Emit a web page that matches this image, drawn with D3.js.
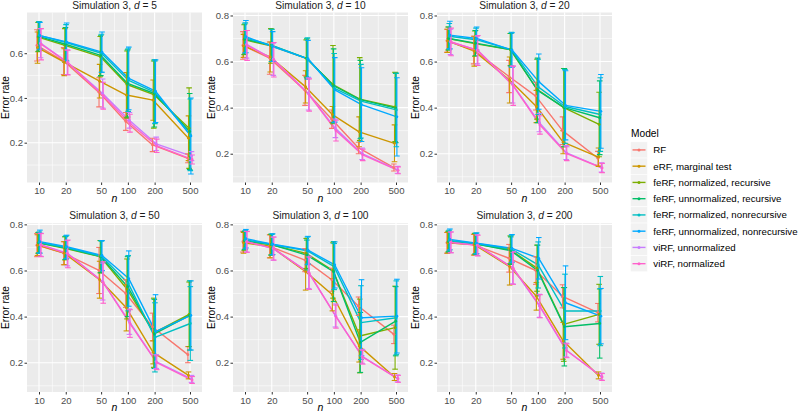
<!DOCTYPE html>
<html><head><meta charset="utf-8">
<script src="https://cdn.jsdelivr.net/npm/d3@7"></script>
<style>
html,body{margin:0;padding:0;background:#fff;}
svg text{font-family:"Liberation Sans",Arial,Helvetica,sans-serif;}
</style></head>
<body><svg id="c" width="800" height="413"></svg>
<script>
// ---- data ----
const nValues = [10, 20, 50, 100, 200, 500];
const seriesNames = ["RF", "eRF, marginal test", "feRF, normalized, recursive", "feRF, unnormalized, recursive",
  "feRF, normalized, nonrecursive", "feRF, unnormalized, nonrecursive", "viRF, unnormalized", "viRF, normalized"];
const seriesColors = ["#F8766D", "#CD9600", "#7CAE00", "#00BE67", "#00BFC4", "#00A9FF", "#C77CFF", "#FF61CC"];
const panelD = [5, 10, 20, 50, 100, 200];
const xTickLabels = ["10", "20", "50", "100", "200", "500"];
const yTickValues = [0.2, 0.4, 0.6, 0.8];

// mean error rate: rows = series (same order as seriesNames), cols = nValues
const mean_d5 = [
  [0.635, 0.565, 0.425, 0.295, 0.19, 0.13],
  [0.625, 0.56, 0.475, 0.413, 0.39, 0.22],
  [0.672, 0.635, 0.585, 0.46, 0.415, 0.265],
  [0.675, 0.64, 0.59, 0.465, 0.42, 0.25],
  [0.68, 0.648, 0.6, 0.48, 0.425, 0.235],
  [0.678, 0.65, 0.605, 0.487, 0.43, 0.23],
  [0.645, 0.56, 0.42, 0.3, 0.195, 0.14],
  [0.64, 0.558, 0.41, 0.287, 0.186, 0.125]];
const sd_d5 = [
  [0.07, 0.06, 0.065, 0.04, 0.03, 0.02],
  [0.07, 0.06, 0.075, 0.1, 0.09, 0.1],
  [0.065, 0.075, 0.09, 0.15, 0.15, 0.18],
  [0.065, 0.075, 0.09, 0.15, 0.15, 0.17],
  [0.06, 0.08, 0.085, 0.14, 0.14, 0.16],
  [0.06, 0.085, 0.09, 0.14, 0.14, 0.17],
  [0.065, 0.055, 0.065, 0.035, 0.03, 0.02],
  [0.07, 0.055, 0.06, 0.04, 0.03, 0.02]];

const mean_d10 = [
  [0.67, 0.615, 0.475, 0.35, 0.225, 0.14],
  [0.668, 0.62, 0.49, 0.37, 0.295, 0.245],
  [0.695, 0.668, 0.614, 0.5, 0.437, 0.403],
  [0.698, 0.67, 0.614, 0.495, 0.435, 0.398],
  [0.703, 0.67, 0.613, 0.485, 0.428, 0.39],
  [0.708, 0.665, 0.612, 0.477, 0.413, 0.36],
  [0.675, 0.61, 0.46, 0.31, 0.2, 0.13],
  [0.67, 0.608, 0.455, 0.3, 0.195, 0.128]];
const sd_d10 = [
  [0.06, 0.07, 0.065, 0.04, 0.025, 0.015],
  [0.05, 0.065, 0.07, 0.035, 0.065, 0.08],
  [0.065, 0.075, 0.08, 0.17, 0.18, 0.15],
  [0.065, 0.07, 0.085, 0.16, 0.17, 0.15],
  [0.065, 0.07, 0.09, 0.15, 0.16, 0.16],
  [0.07, 0.065, 0.08, 0.14, 0.16, 0.17],
  [0.06, 0.07, 0.07, 0.04, 0.025, 0.015],
  [0.065, 0.075, 0.07, 0.045, 0.025, 0.015]];

const mean_d20 = [
  [0.69, 0.65, 0.535, 0.45, 0.3, 0.18],
  [0.69, 0.645, 0.52, 0.405, 0.25, 0.185],
  [0.70, 0.678, 0.652, 0.48, 0.40, 0.327],
  [0.70, 0.68, 0.652, 0.475, 0.40, 0.356],
  [0.71, 0.695, 0.652, 0.49, 0.405, 0.37],
  [0.715, 0.70, 0.65, 0.513, 0.41, 0.384],
  [0.685, 0.65, 0.50, 0.335, 0.205, 0.14],
  [0.685, 0.648, 0.495, 0.325, 0.2, 0.138]];
const sd_d20 = [
  [0.05, 0.06, 0.07, 0.06, 0.06, 0.03],
  [0.05, 0.065, 0.1, 0.07, 0.05, 0.04],
  [0.05, 0.055, 0.07, 0.13, 0.17, 0.14],
  [0.05, 0.055, 0.07, 0.14, 0.17, 0.16],
  [0.055, 0.05, 0.075, 0.12, 0.16, 0.16],
  [0.06, 0.05, 0.075, 0.12, 0.15, 0.16],
  [0.055, 0.06, 0.08, 0.04, 0.03, 0.02],
  [0.06, 0.065, 0.085, 0.04, 0.03, 0.02]];

const mean_d50 = [
  [0.71, 0.675, 0.60, 0.50, 0.355, 0.235],
  [0.71, 0.675, 0.56, 0.438, 0.245, 0.145],
  [0.72, 0.696, 0.66, 0.52, 0.33, 0.41],
  [0.72, 0.698, 0.66, 0.53, 0.325, 0.405],
  [0.722, 0.70, 0.662, 0.545, 0.31, 0.37],
  [0.725, 0.703, 0.665, 0.565, 0.335, 0.405],
  [0.712, 0.675, 0.552, 0.378, 0.205, 0.13],
  [0.71, 0.672, 0.548, 0.37, 0.2, 0.125]];
const sd_d50 = [
  [0.05, 0.05, 0.1, 0.06, 0.06, 0.035],
  [0.045, 0.05, 0.08, 0.1, 0.05, 0.015],
  [0.045, 0.05, 0.07, 0.13, 0.15, 0.14],
  [0.045, 0.05, 0.07, 0.13, 0.15, 0.15],
  [0.045, 0.05, 0.065, 0.12, 0.15, 0.16],
  [0.05, 0.05, 0.065, 0.12, 0.16, 0.15],
  [0.05, 0.055, 0.08, 0.055, 0.03, 0.015],
  [0.05, 0.06, 0.09, 0.06, 0.03, 0.015]];

const mean_d100 = [
  [0.725, 0.705, 0.645, 0.56, 0.445, 0.323],
  [0.72, 0.705, 0.595, 0.495, 0.273, 0.138],
  [0.728, 0.712, 0.674, 0.60, 0.316, 0.352],
  [0.73, 0.712, 0.667, 0.595, 0.288, 0.38],
  [0.733, 0.713, 0.685, 0.617, 0.374, 0.395],
  [0.738, 0.714, 0.688, 0.624, 0.395, 0.402],
  [0.725, 0.695, 0.592, 0.405, 0.228, 0.132],
  [0.724, 0.695, 0.588, 0.40, 0.224, 0.13]];
const sd_d100 = [
  [0.045, 0.05, 0.05, 0.05, 0.04, 0.04],
  [0.045, 0.05, 0.08, 0.07, 0.07, 0.015],
  [0.04, 0.045, 0.065, 0.12, 0.16, 0.18],
  [0.04, 0.045, 0.065, 0.13, 0.13, 0.15],
  [0.04, 0.045, 0.06, 0.1, 0.16, 0.16],
  [0.04, 0.045, 0.06, 0.1, 0.165, 0.16],
  [0.045, 0.05, 0.07, 0.05, 0.03, 0.015],
  [0.045, 0.05, 0.07, 0.05, 0.03, 0.015]];

const mean_d200 = [
  [0.72, 0.712, 0.653, 0.60, 0.488, 0.417],
  [0.72, 0.712, 0.617, 0.488, 0.295, 0.145],
  [0.725, 0.716, 0.69, 0.61, 0.366, 0.41],
  [0.726, 0.716, 0.686, 0.60, 0.356, 0.37],
  [0.73, 0.717, 0.693, 0.624, 0.424, 0.424],
  [0.735, 0.718, 0.696, 0.653, 0.46, 0.402],
  [0.722, 0.71, 0.612, 0.447, 0.255, 0.14],
  [0.722, 0.708, 0.61, 0.445, 0.252, 0.138]];
const sd_d200 = [
  [0.045, 0.045, 0.06, 0.06, 0.05, 0.04],
  [0.045, 0.045, 0.08, 0.06, 0.08, 0.015],
  [0.045, 0.045, 0.06, 0.1, 0.16, 0.13],
  [0.045, 0.045, 0.06, 0.11, 0.17, 0.15],
  [0.045, 0.045, 0.06, 0.1, 0.16, 0.15],
  [0.045, 0.045, 0.06, 0.09, 0.16, 0.12],
  [0.045, 0.045, 0.07, 0.05, 0.03, 0.015],
  [0.045, 0.045, 0.07, 0.05, 0.03, 0.015]];

const panelMeans = [mean_d5, mean_d10, mean_d20, mean_d50, mean_d100, mean_d200];
const panelSds = [sd_d5, sd_d10, sd_d20, sd_d50, sd_d100, sd_d200];

// ---- layout ----
const svg = d3.select("#c");
const panelLefts = [27, 233, 437];
const panelW = 175;
const rowTops = [12.5, 223];
const rowBottoms = [182.5, 392];
const yDomains = [[0.022, 0.782], [0.075, 0.813], [0.075, 0.813], [0.073, 0.806], [0.073, 0.806], [0.073, 0.806]];
const xPad = 12;
const fontTick = 9.6, fontTitle = 10.2;

panelD.forEach((d, p) => {
  const col = p % 3, row = Math.floor(p / 3);
  const L = panelLefts[col], T = rowTops[row], B = rowBottoms[row], R = L + panelW;
  const x = d3.scaleLog().domain([10, 500]).range([L + xPad, R - xPad]);
  const y = d3.scaleLinear().domain(yDomains[p]).range([B, T]);
  const g = svg.append("g");
  g.append("rect").attr("x", L).attr("y", T).attr("width", panelW).attr("height", B - T).attr("fill", "#EBEBEB");

  // minor grid
  const [y0, y1] = yDomains[p];
  const yMinor = [0.1, 0.3, 0.5, 0.7].filter(v => v >= y0 && v <= y1);
  const xMinor = d3.pairs(nValues).map(([a, b]) => Math.sqrt(a * b));
  g.selectAll(".ym").data(yMinor).join("line").attr("x1", L).attr("x2", R)
    .attr("y1", v => y(v)).attr("y2", v => y(v)).attr("stroke", "#fff").attr("stroke-width", 0.55);
  g.selectAll(".xm").data(xMinor).join("line").attr("y1", T).attr("y2", B)
    .attr("x1", v => x(v)).attr("x2", v => x(v)).attr("stroke", "#fff").attr("stroke-width", 0.55);
  // major grid
  const yMajor = yTickValues.filter(v => v >= y0 && v <= y1);
  g.selectAll(".yM").data(yMajor).join("line").attr("x1", L).attr("x2", R)
    .attr("y1", v => y(v)).attr("y2", v => y(v)).attr("stroke", "#fff").attr("stroke-width", 1.1);
  g.selectAll(".xM").data(nValues).join("line").attr("y1", T).attr("y2", B)
    .attr("x1", v => x(v)).attr("x2", v => x(v)).attr("stroke", "#fff").attr("stroke-width", 1.1);

  // axes
  const yAxis = d3.axisLeft(y).tickValues(yMajor).tickFormat(d3.format(".1f")).tickSize(2.5).tickPadding(1.5);
  const ya = g.append("g").attr("transform", `translate(${L},0)`).call(yAxis);
  ya.select(".domain").remove();
  ya.selectAll("line").attr("stroke", "#333");
  ya.selectAll("text").attr("fill", "#4D4D4D").attr("font-size", fontTick).attr("font-family", "Liberation Sans, Arial, sans-serif");
  const xAxis = d3.axisBottom(x).tickValues(nValues).tickFormat((v, i) => xTickLabels[i]).tickSize(2.5).tickPadding(2.5);
  const xa = g.append("g").attr("transform", `translate(0,${B})`).call(xAxis);
  xa.select(".domain").remove();
  xa.selectAll("line").attr("stroke", "#333");
  xa.selectAll("text").attr("fill", "#4D4D4D").attr("font-size", fontTick).attr("font-family", "Liberation Sans, Arial, sans-serif");

  // axis titles
  g.append("text").attr("x", (L + R) / 2).attr("y", B + 19).attr("text-anchor", "middle")
    .attr("font-size", 10.5).attr("font-style", "italic").text("n");
  g.append("text").attr("transform", `translate(${L - 17.8},${(T + B) / 2}) rotate(-90)`)
    .attr("text-anchor", "middle").attr("font-size", 10.2).text("Error rate");
  // strip title
  const tt = g.append("text").attr("x", (L + R) / 2).attr("y", T - 3.8).attr("text-anchor", "middle").attr("font-size", fontTitle).attr("fill", "#1A1A1A");
  tt.append("tspan").text("Simulation 3, ");
  tt.append("tspan").attr("font-style", "italic").text("d");
  tt.append("tspan").text(" = " + d);

  const means = panelMeans[p], sds = panelSds[p];
  const clip = "clip" + p;
  svg.append("clipPath").attr("id", clip).append("rect").attr("x", L).attr("y", T).attr("width", panelW).attr("height", B - T);
  const dg = g.append("g").attr("clip-path", `url(#${clip})`);
  const dodge = i => (i - 3.5) * 0.6;
  const line = d3.line();
  // lines
  means.forEach((row, i) => {
    dg.append("path").attr("d", line(row.map((m, j) => [x(nValues[j]) + dodge(i), y(m)])))
      .attr("fill", "none").attr("stroke", seriesColors[i]).attr("stroke-width", 1.4).attr("stroke-linejoin", "round");
  });
  // error bars
  means.forEach((row, i) => {
    row.forEach((m, j) => {
      const cx = x(nValues[j]) + dodge(i);
      const lo = y(m - sds[i][j]), hi = y(m + sds[i][j]);
      const eb = dg.append("g").attr("stroke", seriesColors[i]).attr("stroke-width", 1.1);
      eb.append("line").attr("x1", cx).attr("x2", cx).attr("y1", lo).attr("y2", hi);
      eb.append("line").attr("x1", cx - 2.8).attr("x2", cx + 2.8).attr("y1", lo).attr("y2", lo);
      eb.append("line").attr("x1", cx - 2.8).attr("x2", cx + 2.8).attr("y1", hi).attr("y2", hi);
    });
  });
  // points
  means.forEach((row, i) => {
    row.forEach((m, j) => {
      dg.append("circle").attr("cx", x(nValues[j]) + dodge(i)).attr("cy", y(m)).attr("r", 1.4).attr("fill", seriesColors[i]);
    });
  });
});

// ---- legend ----
const lg = svg.append("g");
lg.append("text").attr("x", 631).attr("y", 137).attr("font-size", 10.2).text("Model");
const keyTop = 141.8, keyH = 16.25;
seriesNames.forEach((name, i) => {
  const cy = keyTop + keyH * i + keyH / 2;
  lg.append("rect").attr("x", 630.5).attr("y", keyTop + keyH * i).attr("width", 17).attr("height", keyH)
    .attr("fill", "#F2F2F2").attr("stroke", "#fff").attr("stroke-width", 0.6);
  lg.append("line").attr("x1", 632.5).attr("x2", 645.5).attr("y1", cy).attr("y2", cy)
    .attr("stroke", seriesColors[i]).attr("stroke-width", 1.4);
  lg.append("circle").attr("cx", 639).attr("cy", cy).attr("r", 1.5).attr("fill", seriesColors[i]);
  lg.append("text").attr("x", 653.3).attr("y", cy + 3.5).attr("font-size", 9.7).text(name);
});
</script></body></html>
